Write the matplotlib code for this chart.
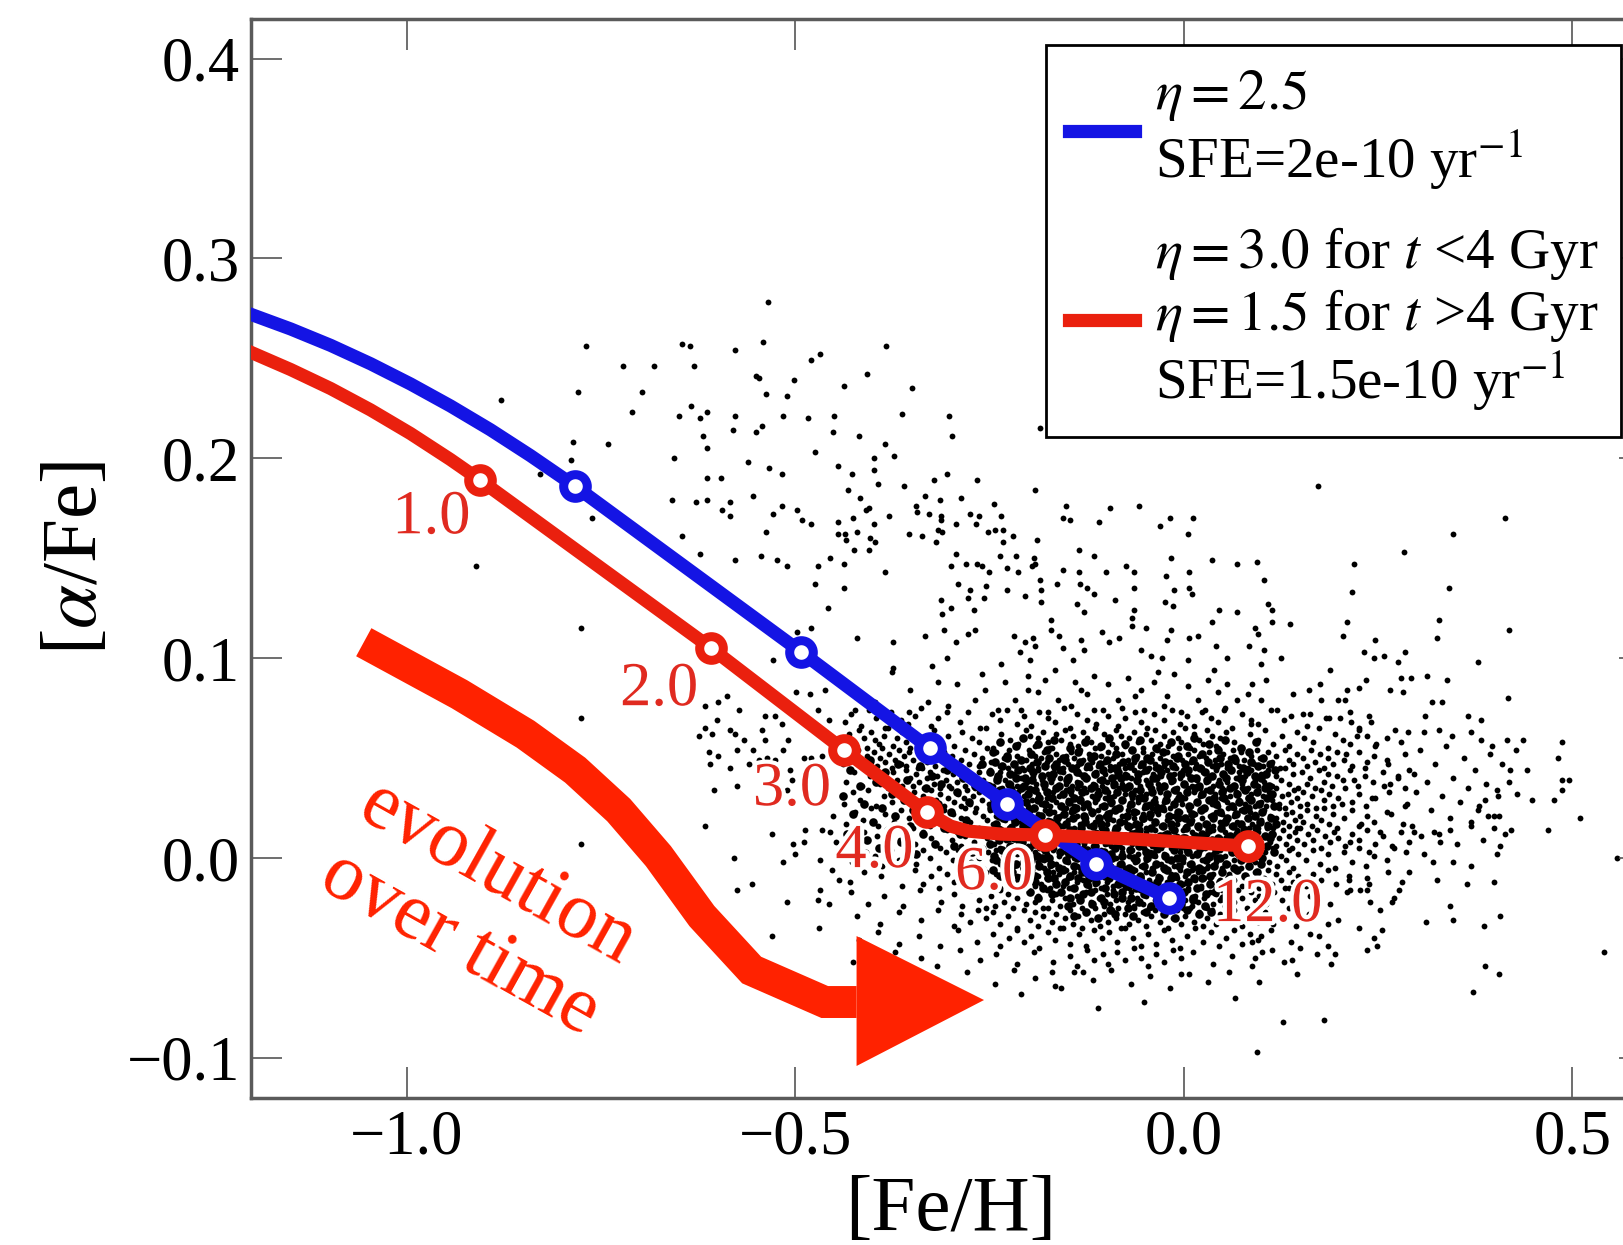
import numpy as np
import matplotlib.pyplot as plt
from matplotlib.lines import Line2D
import matplotlib.patheffects as pe

plt.rcParams['font.family'] = ['Liberation Serif', 'DejaVu Serif']
plt.rcParams['mathtext.fontset'] = 'stix'

# chemical evolution tracks, [Fe/H] vs [alpha/Fe]
blue_feh = [-1.200, -1.149, -1.0976, -1.0462, -0.9949, -0.9435, -0.8921, -0.8408, -0.783, -0.492, -0.327, -0.227, -0.113, -0.019]
blue_alpha = [0.272, 0.2647, 0.2565, 0.2473, 0.2372, 0.2262, 0.2143, 0.2014, 0.186, 0.103, 0.055, 0.027, -0.003, -0.020]
blue_mark_feh = [-0.783, -0.492, -0.327, -0.227, -0.113, -0.019]
blue_mark_alpha = [0.186, 0.103, 0.055, 0.027, -0.003, -0.020]

red_feh = [-1.200, -1.149, -1.0976, -1.0462, -0.9949, -0.9435, -0.905, -0.608, -0.437, -0.331, -0.300, -0.277, -0.235, -0.179, -0.063, 0.082]
red_alpha = [0.253, 0.2444, 0.2349, 0.2242, 0.2124, 0.1994, 0.189, 0.105, 0.054, 0.023, 0.016, 0.0135, 0.012, 0.0115, 0.0095, 0.006]
red_mark_feh = [-0.905, -0.608, -0.437, -0.331, -0.179, 0.082]
red_mark_alpha = [0.189, 0.105, 0.054, 0.023, 0.0115, 0.006]

# age labels (Gyr) along the red track
age_text = ['1.0', '2.0', '3.0', '4.0', '6.0', '12.0']
age_feh = [-0.968, -0.675, -0.504, -0.398, -0.244, 0.108]
age_alpha = [0.170, 0.084, 0.034, 0.003, -0.008, -0.024]

# "evolution over time" arrow
arrow_feh = [-1.055, -0.932, -0.847, -0.783, -0.727, -0.676, -0.620, -0.556, -0.462, -0.421]
arrow_alpha = [0.108, 0.082, 0.062, 0.044, 0.024, 0.001, -0.029, -0.056, -0.072, -0.072]
head_feh = [-0.421, -0.421, -0.257]
head_alpha = [-0.039, -0.104, -0.071]

legend_labels = [r'$\eta=2.5$' + '\nSFE=2e-10 yr$^{-1}$',
                 r'$\eta=3.0$ for $t$ <4 Gyr' + '\n' + r'$\eta=1.5$ for $t$ >4 Gyr' + '\nSFE=1.5e-10 yr$^{-1}$']

# stars, ([Fe/H], [alpha/Fe]) in milli-dex
halo_upper = [
    (-535,278),(-769,256),(-646,257),(-635,256),(-578,254),(-542,258),(-468,252),(-479,249),(-721,246),(-681,246),
    (-630,246),(-780,233),(-697,233),(-551,241),(-547,240),(-502,239),(-538,232),(-510,231),(-878,229),(-710,223),
    (-634,226),(-614,223),(-649,221),(-623,220),(-577,221),(-515,221),(-484,220),(-450,221),(-543,216),(-551,213),
    (-580,214),(-451,213),(-619,211),(-613,205),(-786,208),(-741,207),(-789,199),(-656,200),(-474,203),(-561,198),
    (-534,195),(-517,192),(-445,196),(-828,192),(-613,190),(-595,190),(-761,170),(-659,179),(-627,178),(-613,179),
    (-584,178),(-594,174),(-584,171),(-554,181),(-517,176),(-529,172),(-497,174),(-491,169),(-480,167),(-445,168),
    (-538,163),(-445,162),(-646,161),(-622,152),(-578,149),(-544,151),(-523,149),(-511,146),(-470,146),(-455,150),
    (-911,146),(-474,137),(-458,125),(-775,115),(-497,113),(-479,115),(-528,99),
    (-383,256),(-408,242),(-437,236),(-350,235),(-362,222),(-302,221),(-298,211),(-185,215),(-418,211),(-384,207),
    (-373,201),(-399,200),(-399,194),(-427,192),(-393,187),(-360,186),(-322,189),(-304,192),(-266,189),(-191,184),
    (-432,184),(-416,180),(-405,175),(-409,174),(-425,170),(-379,171),(-398,167),(-344,176),(-343,173),(-328,172),
    (-312,171),(-313,169),(-333,181),(-314,179),(-287,180),(-244,177),(-235,171),(-275,172),(-263,171),(-267,167),
    (-252,163),(-243,164),(-233,164),(-220,161),(-232,158),(-151,176),(-156,170),(-146,169),(-95,175),(-58,176),
    (-109,168),(-30,166),(-18,170),(12,170),(5,162),(-436,162),(-420,163),(-404,160),(-397,158),(-434,159),
    (-424,154),(-405,154),(-353,162),(-337,161),(-316,164),(-311,163),(-319,158),(-293,167),(-189,159),(-437,147),
    (-385,143),(-293,152),(-280,147),(-300,146),(-266,147),(-260,146),(-251,143),(-236,151),(-216,151),(-227,145),
    (-213,143),(-193,150),(-195,146),(-191,147),(-135,154),(-116,151),(-155,144),(-135,143),(-100,143),(-74,146),
    (-64,143),(-16,150),(7,143),(36,149),(69,147),(-437,135),(-290,137),(-255,136),(-275,134),(-278,130),
    (-257,130),(-312,129),(-299,125),(-311,122),(-270,124),(-228,134),(-204,131),(-184,134),(-185,139),(-163,137),
    (-184,128),(-134,137),(-124,135),(-116,132),(-138,127),(-129,123),(-89,129),(-64,135),(-64,124),(-23,141),
    (-12,134),(7,135),(10,132),(-24,128),(-14,126),(45,124),(36,118),(69,123),(-420,110),(-374,108),
    (-333,111),(-308,114),(-293,108),(-278,112),(-269,114),(-219,111),(-204,108),(-194,110),(-191,106),(-211,103),
    (-198,99),(-235,97),(-171,119),(-171,114),(-160,111),(-156,105),(-132,109),(-129,104),(-142,99),(-105,113),
    (-96,108),(-83,110),(-67,116),(-66,120),(-49,115),(-55,104),(-42,101),(-28,100),(-16,114),(-21,109),
    (7,110),(18,111),(42,106),(56,100),(5,99),(-305,100),(-324,96),(-374,95),
    (173,186),(413,170),(346,162),(283,153),(219,147),(94,148),(103,139),(216,133),(341,135),(108,127),
    (113,124),(114,118),(137,117),(91,115),(95,112),(84,106),(103,104),(210,118),(205,111),(246,109),
    (328,119),(326,110),(418,114),(232,103),(245,100),(257,101),(284,103),(275,98),(379,98),(125,100),(99,97),
]

halo_left = [
    (-776,70),(-776,7),(-616,76),(-599,78),(-588,81),(-572,74),(-539,71),(-526,71),(-499,83),(-481,82),
    (-462,84),(-470,74),(-457,69),(-517,67),(-543,64),(-601,69),(-624,61),(-616,65),(-607,62),(-584,64),
    (-578,62),(-566,59),(-554,54),(-539,59),(-509,59),(-515,54),(-536,50),(-547,49),(-560,47),(-575,54),
    (-611,53),(-599,51),(-609,47),(-584,45),(-526,49),(-507,44),(-504,39),(-489,50),(-479,50),(-466,51),
    (-511,34),(-605,34),(-575,36),(-616,16),(-530,12),(-503,7),(-489,8),(-487,14),(-466,14),(-455,13),
    (-500,2),(-515,-2),(-468,-1),(-579,0),(-444,-11),(-575,-16),(-556,-13),(-511,-22),(-468,-16),(-470,-21),
    (-457,-23),(-469,-35),(-530,-39),(-451,21),(-447,8),(-453,-6),
]

halo_right = [
    (88,87),(82,82),(106,89),(140,82),(161,84),(175,87),(176,79),(198,79),(208,79),(210,84),
    (225,85),(234,89),(188,94),(279,90),(292,90),(313,91),(338,89),(265,84),(282,83),(319,78),
    (332,78),(417,80),(366,71),(383,69),(310,71),(238,71),(215,68),(225,65),(201,70),(187,70),
    (153,72),(163,72),(129,69),(120,74),(99,79),(86,67),(272,64),(309,63),(328,64),(345,61),
    (369,63),(383,59),(397,56),(416,59),(437,59),(427,54),(442,44),(420,44),(486,58),(482,50),
    (486,39),(495,39),(486,34),(476,29),(448,29),(429,32),(403,34),(388,29),(379,24),(392,21),
    (405,21),(399,15),(421,14),(469,14),(510,20),(369,16),(343,14),(322,13),(305,11),(290,8),
    (296,13),(330,8),(347,-2),(369,-4),(403,2),(407,6),(399,-12),(364,-13),(326,-11),(320,-2),
    (290,-7),(277,-16),(268,-22),(253,-26),(236,-10),(212,-11),(227,-16),(236,-16),(210,-17),(198,-31),
    (225,-35),(255,-36),(245,-40),(249,-44),(236,-46),(195,-48),(189,-53),(150,-45),(174,-39),(129,-52),
    (101,-47),(91,-50),(88,-42),(99,-39),(146,-58),(97,-62),(127,-82),(180,-81),(94,-97),(311,-32),
    (347,-31),(343,-24),(386,-34),(407,-29),(388,-54),(405,-58),(372,-67),(540,-47),(557,0),
    (204,27),(209,52),(214,8),(219,39),(223,61),(228,17),(233,45),(238,3),(242,30),(247,57),
    (252,13),(257,36),(261,49),(266,22),(271,5),(275,41),(280,58),(285,26),(290,44),(294,16),
    (299,33),(304,54),(309,2),(313,38),(318,24),(323,47),(328,12),(332,31),(337,56),(342,20),
    (347,40),(351,7),(356,28),(361,50),(366,35),(370,18),(375,44),(380,26),(385,9),(389,37),
    (394,52),(399,21),(404,31),(409,47),(413,12),(418,38),
]

core_stars = [
    # 73 .. 94
    (-376,93),(-352,84),(-316,88),(-292,87),(-269,79),(-256,84),(-230,88),(-217,79),(-200,91),(-187,83),
    (-179,89),(-162,79),(-140,88),(-125,82),(-115,91),(-98,87),(-85,79),(-72,90),(-55,84),(-38,88),
    (-21,81),(-12,92),(5,86),(18,79),(31,89),(44,83),(56,87),(69,79),(-303,76),(-329,78),
    (-397,78),(-423,74),(-239,74),(-209,74),(-175,73),(-145,76),(-115,74),(-80,75),(-51,74),(-25,76),
    (-3,73),(27,74),(52,74),(-277,73),(-354,73),(-200,84),(-132,84),(-63,81),(-33,93),(39,94),
    (-166,94),(-260,92),
    # 65 .. 75
    (-436,68),(-428,72),(-415,66),(-405,74),(-396,70),(-385,65),(-377,73),(-364,69),(-355,67),(-346,71),
    (-338,75),(-325,66),(-316,70),(-304,73),(-288,68),(-262,65),(-247,72),(-236,69),(-228,74),(-214,67),
    (-205,71),(-197,66),(-186,73),(-175,70),(-166,68),(-154,75),(-146,65),(-137,72),(-124,69),(-113,67),
    (-104,74),(-97,71),(-85,66),(-76,70),(-63,73),(-55,68),(-47,65),(-38,72),(-26,69),(-15,74),
    (-5,67),(4,71),(13,66),(24,73),(35,70),(44,68),(53,75),(62,65),(75,72),(86,69),
    (95,67),(112,74),(138,71),(158,66),(183,70),(214,73),(241,68),
    # 55 .. 65
    (-437,58),(-431,62),(-424,56),(-418,64),(-412,60),(-407,55),(-402,63),(-397,59),(-392,57),(-386,61),
    (-380,65),(-374,56),(-369,60),(-363,63),(-357,58),(-352,55),(-345,62),(-334,59),(-322,64),(-313,57),
    (-303,61),(-296,56),(-285,63),(-273,60),(-264,58),(-254,65),(-246,55),(-235,62),(-224,59),(-213,57),
    (-203,64),(-198,61),(-192,56),(-187,60),(-181,63),(-175,58),(-170,55),(-164,62),(-158,59),(-153,64),
    (-147,57),(-142,61),(-136,56),(-130,63),(-125,60),(-119,58),(-114,65),(-108,55),(-103,62),(-98,59),
    (-93,57),(-87,64),(-81,61),(-76,56),(-70,60),(-64,63),(-59,58),(-53,55),(-48,62),(-42,59),
    (-37,64),(-31,57),(-25,61),(-20,56),(-14,63),(-8,60),(-3,58),(2,65),(8,55),(13,62),
    (19,59),(25,57),(30,64),(36,61),(41,56),(47,60),(54,63),(64,58),(75,55),(85,62),
    (96,59),(104,64),(115,57),(126,61),(135,56),(146,63),(155,60),(166,58),(174,65),(186,55),
    (195,62),(205,59),(214,57),(226,64),(236,61),(246,56),(262,60),(288,63),
    # 45 .. 55
    (-438,47),(-432,52),(-426,49),(-419,54),(-413,46),(-408,51),(-403,48),(-399,53),(-395,46),(-391,50),
    (-388,55),(-384,48),(-379,52),(-376,45),(-372,49),(-367,54),(-364,47),(-360,51),(-357,46),(-353,53),
    (-348,49),(-342,45),(-337,52),(-331,48),(-326,54),(-320,46),(-315,50),(-309,53),(-304,47),(-298,51),
    (-293,45),(-287,49),(-281,54),(-276,47),(-270,52),(-264,46),(-259,50),(-253,55),(-248,48),(-242,53),
    (-237,46),(-231,50),(-225,54),(-220,47),(-214,51),(-208,45),(-203,49),(-199,54),(-195,47),(-191,51),
    (-188,45),(-184,50),(-180,53),(-176,48),(-172,55),(-168,46),(-164,52),(-160,49),(-156,45),(-152,51),
    (-149,47),(-145,53),(-141,50),(-138,46),(-134,54),(-130,49),(-126,45),(-122,52),(-118,48),(-114,55),
    (-110,46),(-106,51),(-102,48),(-98,53),(-95,46),(-91,50),(-87,55),(-83,47),(-79,52),(-76,45),
    (-72,49),(-68,54),(-64,48),(-60,51),(-56,46),(-52,53),(-49,49),(-45,45),(-41,52),(-37,47),
    (-34,54),(-30,50),(-26,46),(-22,53),(-18,48),(-14,51),(-10,45),(-6,55),(-2,49),(1,46),
    (5,52),(9,48),(13,54),(16,47),(20,51),(24,45),(28,50),(32,53),(36,46),(40,49),
    (44,55),(48,47),(51,52),(55,45),(59,50),(63,54),(67,48),(71,46),(74,53),(78,49),
    (82,45),(86,51),(90,47),(94,54),(98,50),(102,46),(108,53),(113,48),(119,51),(124,45),
    (130,54),(135,49),(141,47),(146,52),(153,50),(158,46),(164,54),(169,48),(175,52),(181,45),
    (186,50),(192,47),(197,53),(206,49),(216,46),(225,53),(236,48),(245,51),(263,47),(284,52),
    # 35 .. 45
    (-435,38),(-424,43),(-414,36),(-404,41),(-397,44),(-391,37),(-386,41),(-380,35),(-374,43),(-369,39),
    (-363,36),(-357,44),(-352,40),(-349,36),(-345,42),(-341,38),(-337,45),(-334,35),(-330,40),(-326,43),
    (-322,37),(-318,41),(-314,35),(-310,44),(-306,39),(-302,36),(-297,42),(-292,38),(-286,45),(-281,36),
    (-275,41),(-269,35),(-264,43),(-258,39),(-253,37),(-249,44),(-245,36),(-241,40),(-237,43),(-234,35),
    (-230,39),(-226,45),(-222,37),(-218,42),(-214,36),(-210,40),(-206,44),(-202,38),(-198,35),(-194,41),
    (-190,37),(-187,44),(-183,39),(-179,36),(-175,42),(-171,38),(-167,45),(-163,35),(-159,40),(-155,43),
    (-151,37),(-148,41),(-144,36),(-140,44),(-137,38),(-133,42),(-129,35),(-125,40),(-121,45),(-117,37),
    (-113,43),(-109,39),(-105,36),(-101,42),(-99,38),(-95,44),(-91,36),(-87,41),(-84,45),(-80,37),
    (-76,42),(-72,35),(-68,40),(-64,44),(-60,38),(-56,36),(-52,43),(-48,39),(-44,35),(-40,42),
    (-37,45),(-33,37),(-29,41),(-25,36),(-21,44),(-17,38),(-13,42),(-9,35),(-5,40),(-1,44),
    (2,37),(6,42),(10,36),(14,45),(17,39),(21,35),(25,43),(29,38),(33,41),(37,36),
    (41,44),(45,39),(49,35),(52,42),(56,38),(60,45),(63,36),(67,40),(71,43),(75,37),
    (79,41),(83,35),(87,44),(91,39),(95,36),(99,42),(103,38),(108,44),(114,36),(119,41),
    (125,39),(130,45),(136,37),(141,42),(147,35),(152,43),(158,37),(163,40),(169,35),(174,44),
    (180,38),(186,42),(191,36),(197,41),(205,39),(214,44),(224,36),(233,41),(244,38),(256,43),
    (265,37),(276,40),(285,35),(296,42),
    # 25 .. 35
    (-437,27),(-426,33),(-416,29),(-406,34),(-396,26),(-386,31),(-375,28),(-366,35),(-356,30),(-347,33),
    (-342,27),(-336,31),(-331,25),(-325,34),(-319,29),(-314,32),(-308,26),(-303,30),(-299,35),(-295,28),
    (-291,32),(-287,26),(-283,30),(-279,34),(-275,27),(-271,31),(-267,25),(-263,33),(-259,29),(-255,35),
    (-251,27),(-248,31),(-244,26),(-240,34),(-237,29),(-233,32),(-229,25),(-225,30),(-221,35),(-217,27),
    (-213,33),(-209,28),(-205,31),(-201,26),(-199,34),(-195,29),(-191,25),(-188,32),(-184,27),(-180,35),
    (-176,30),(-172,26),(-168,33),(-164,28),(-160,31),(-156,25),(-152,34),(-149,29),(-145,32),(-141,26),
    (-137,35),(-133,30),(-130,27),(-126,33),(-122,25),(-118,31),(-114,28),(-110,34),(-106,26),(-102,30),
    (-98,33),(-94,27),(-90,31),(-87,25),(-83,35),(-79,29),(-75,32),(-71,26),(-67,30),(-63,34),
    (-59,28),(-55,31),(-51,25),(-49,32),(-45,27),(-41,35),(-37,30),(-34,26),(-30,33),(-26,28),
    (-22,31),(-18,25),(-14,34),(-10,29),(-6,32),(-2,27),(1,30),(5,35),(9,26),(13,33),
    (17,28),(21,31),(25,25),(28,34),(32,29),(36,27),(40,32),(44,26),(48,30),(52,34),
    (56,28),(60,31),(64,25),(67,33),(71,29),(75,35),(79,27),(83,30),(87,32),(91,26),
    (95,34),(99,28),(102,31),(106,26),(110,33),(114,29),(118,35),(122,27),(126,31),(130,25),
    (134,32),(138,28),(142,34),(146,30),(149,26),(154,33),(159,27),(165,31),(170,25),(176,34),
    (181,29),(187,32),(192,26),(198,30),(207,35),(216,28),(226,32),(235,26),(246,30),(264,33),
    (287,27),
    # 15 .. 25
    (-434,17),(-423,23),(-413,19),(-403,25),(-394,16),(-384,22),(-373,18),(-364,24),(-354,20),(-348,15),
    (-342,22),(-337,18),(-331,25),(-326,16),(-320,21),(-314,19),(-309,24),(-303,17),(-297,22),(-292,16),
    (-286,20),(-281,25),(-275,18),(-269,23),(-264,15),(-258,21),(-253,19),(-249,24),(-245,17),(-241,21),
    (-238,15),(-234,23),(-230,19),(-226,25),(-222,16),(-218,20),(-214,24),(-210,18),(-206,22),(-202,15),
    (-198,20),(-194,25),(-190,17),(-187,22),(-183,16),(-179,24),(-175,19),(-171,15),(-167,23),(-163,18),
    (-159,21),(-155,16),(-151,25),(-149,19),(-145,23),(-141,15),(-138,21),(-134,17),(-130,25),(-126,20),
    (-122,16),(-118,22),(-114,18),(-110,24),(-106,15),(-102,21),(-99,17),(-95,23),(-91,19),(-88,25),
    (-84,15),(-80,21),(-76,18),(-72,24),(-68,16),(-64,20),(-60,23),(-56,17),(-52,22),(-48,15),
    (-44,20),(-41,25),(-37,18),(-33,22),(-29,16),(-25,24),(-21,19),(-17,15),(-13,21),(-9,17),
    (-5,23),(-1,20),(3,16),(7,24),(11,19),(15,22),(19,15),(23,20),(27,25),(31,17),
    (34,21),(38,16),(42,23),(46,18),(49,22),(53,19),(57,25),(61,16),(65,21),(69,18),
    (73,24),(77,15),(81,20),(85,23),(88,17),(92,22),(96,15),(99,19),(103,24),(107,17),
    (111,21),(115,15),(119,20),(123,25),(127,18),(131,22),(135,16),(139,23),(143,19),(146,15),
    (149,21),(154,18),(159,24),(165,16),(170,21),(176,19),(181,25),(187,17),(192,22),(197,15),
    (206,20),(216,24),(225,16),(236,21),(245,18),(262,23),(282,17),
    # 5 .. 15
    (-431,8),(-412,13),(-395,11),(-386,6),(-375,14),(-365,9),(-356,12),(-346,7),(-335,13),(-325,10),
    (-314,5),(-305,14),(-298,9),(-292,13),(-287,6),(-281,11),(-275,15),(-270,8),(-264,12),(-258,5),
    (-253,10),(-248,14),(-244,7),(-240,11),(-237,5),(-233,13),(-229,9),(-225,15),(-221,6),(-217,12),
    (-213,8),(-209,14),(-205,10),(-201,6),(-198,12),(-194,8),(-190,15),(-186,5),(-183,11),(-179,7),
    (-175,13),(-171,9),(-167,5),(-163,14),(-159,10),(-155,6),(-151,12),(-148,8),(-144,14),(-140,5),
    (-137,11),(-133,15),(-129,7),(-125,12),(-121,9),(-117,6),(-113,13),(-109,10),(-105,15),(-101,7),
    (-98,11),(-94,6),(-90,14),(-87,9),(-83,12),(-79,5),(-75,10),(-71,15),(-67,7),(-63,13),
    (-59,8),(-55,11),(-51,5),(-49,13),(-45,9),(-41,6),(-37,14),(-33,10),(-29,5),(-25,12),
    (-21,8),(-17,15),(-13,6),(-9,11),(-5,7),(-1,14),(2,10),(6,5),(10,13),(14,8),
    (18,15),(22,11),(26,6),(30,12),(34,9),(38,14),(42,5),(46,10),(49,7),(53,13),
    (57,8),(61,11),(65,5),(68,14),(72,9),(76,12),(80,6),(84,15),(88,10),(92,7),
    (96,13),(99,5),(103,11),(107,15),(111,8),(115,12),(119,6),(123,10),(127,14),(131,7),
    (135,11),(139,5),(143,13),(146,9),(149,15),(155,7),(160,12),(166,9),(171,14),(177,5),
    (182,11),(188,8),(193,13),(198,10),(207,6),(217,12),(226,9),(236,14),(246,7),(256,11),
    (268,6),(279,13),
    # -5 .. 5
    (-427,-2),(-409,3),(-397,1),(-388,-4),(-377,4),(-366,-1),(-357,2),(-345,-3),(-335,4),(-326,0),
    (-315,-5),(-306,3),(-297,-1),(-291,4),(-286,-4),(-280,2),(-274,-2),(-269,5),(-263,0),(-258,-5),
    (-252,3),(-247,-1),(-242,4),(-236,-3),(-231,1),(-225,5),(-219,-4),(-214,2),(-208,-2),(-203,4),
    (-199,0),(-195,-5),(-191,3),(-188,-2),(-184,5),(-180,-1),(-176,2),(-172,-4),(-168,4),(-164,-3),
    (-160,1),(-156,-5),(-152,3),(-149,-2),(-145,4),(-141,0),(-138,-4),(-134,2),(-130,5),(-126,-1),
    (-122,3),(-118,-5),(-114,1),(-110,-3),(-106,4),(-102,-1),(-98,2),(-94,-4),(-90,5),(-87,0),
    (-83,-3),(-79,3),(-75,-5),(-71,1),(-67,4),(-63,-2),(-59,2),(-55,-4),(-51,5),(-48,-1),
    (-44,3),(-40,-5),(-37,1),(-33,4),(-29,-3),(-25,2),(-21,-1),(-17,5),(-13,-4),(-9,0),
    (-5,3),(-1,-2),(3,4),(7,-3),(11,1),(15,-5),(19,3),(23,-1),(27,5),(31,-4),
    (34,0),(38,2),(42,-2),(46,4),(49,-5),(53,1),(57,-3),(61,4),(65,-1),(69,2),
    (73,-5),(77,3),(81,0),(84,-4),(88,5),(92,-2),(96,1),(99,-3),(104,3),(109,-2),
    (115,5),(120,-4),(125,1),(131,-1),(136,4),(141,-5),(147,2),(157,-1),(166,4),(175,-3),
    (185,2),(195,-5),(206,3),(216,-2),(226,5),(235,-4),(245,1),(261,-1),(286,3),
    # -15 .. -5
    (-430,-12),(-411,-7),(-389,-9),(-363,-14),(-346,-6),(-336,-13),(-325,-9),(-315,-15),(-305,-8),(-296,-12),
    (-285,-6),(-275,-14),(-264,-10),(-254,-7),(-248,-13),(-242,-8),(-237,-15),(-231,-10),(-225,-6),(-219,-12),
    (-214,-9),(-208,-14),(-203,-7),(-199,-11),(-195,-6),(-191,-14),(-187,-9),(-184,-13),(-180,-5),(-176,-10),
    (-172,-15),(-168,-7),(-164,-12),(-160,-8),(-156,-14),(-152,-6),(-149,-10),(-145,-15),(-141,-7),(-137,-12),
    (-134,-5),(-130,-11),(-126,-8),(-122,-14),(-118,-6),(-114,-13),(-110,-9),(-106,-15),(-102,-7),(-99,-12),
    (-95,-8),(-91,-14),(-87,-5),(-83,-10),(-79,-13),(-75,-7),(-71,-15),(-67,-9),(-63,-6),(-59,-12),
    (-55,-10),(-51,-14),(-49,-7),(-45,-11),(-41,-5),(-37,-13),(-33,-9),(-29,-15),(-25,-6),(-21,-12),
    (-17,-8),(-13,-14),(-9,-10),(-5,-6),(-1,-13),(2,-9),(6,-15),(10,-6),(14,-11),(18,-7),
    (22,-14),(26,-10),(30,-5),(34,-12),(38,-8),(42,-15),(46,-11),(49,-6),(53,-13),(58,-8),
    (64,-11),(69,-6),(75,-14),(80,-9),(86,-12),(91,-7),(97,-15),(103,-10),(108,-6),(114,-13),
    (119,-8),(125,-11),(130,-15),(136,-7),(141,-12),(147,-9),(157,-14),(166,-8),(176,-11),(186,-6),
    (196,-13),(212,-9),(238,-13),(263,-7),(281,-12),
    # -25 .. -15
    (-428,-17),(-406,-23),(-386,-19),(-361,-24),(-339,-16),(-312,-22),(-295,-18),(-285,-24),(-274,-16),(-264,-21),
    (-254,-25),(-248,-19),(-243,-24),(-237,-16),(-231,-22),(-226,-18),(-220,-25),(-214,-20),(-209,-15),(-203,-23),
    (-198,-17),(-192,-22),(-187,-19),(-181,-25),(-176,-16),(-170,-21),(-164,-18),(-159,-24),(-153,-20),(-148,-15),
    (-143,-23),(-137,-19),(-131,-25),(-126,-17),(-120,-22),(-114,-16),(-109,-20),(-103,-24),(-99,-18),(-95,-23),
    (-91,-16),(-87,-21),(-84,-25),(-80,-19),(-76,-15),(-72,-22),(-68,-17),(-64,-24),(-60,-20),(-56,-16),
    (-52,-23),(-49,-19),(-45,-25),(-41,-17),(-37,-21),(-33,-15),(-29,-23),(-25,-18),(-21,-24),(-17,-20),
    (-13,-16),(-9,-22),(-5,-18),(-1,-25),(2,-21),(6,-16),(10,-24),(14,-19),(18,-22),(22,-15),
    (26,-20),(30,-25),(34,-17),(38,-23),(42,-18),(46,-21),(49,-16),(53,-24),(59,-18),(64,-22),
    (70,-16),(75,-20),(81,-25),(86,-17),(92,-21),(97,-19),(106,-23),(116,-17),(126,-21),(136,-15),
    (146,-24),(163,-19),(188,-23),(214,-16),(239,-22),(271,-20),
    # -35 .. -25
    (-421,-29),(-391,-33),(-366,-27),(-338,-31),(-316,-26),(-296,-34),(-286,-28),(-275,-32),(-265,-26),(-255,-30),
    (-246,-27),(-236,-33),(-226,-29),(-215,-35),(-205,-26),(-198,-31),(-192,-27),(-187,-34),(-181,-29),(-175,-25),
    (-170,-32),(-164,-28),(-159,-35),(-153,-30),(-147,-26),(-142,-33),(-136,-29),(-131,-35),(-125,-27),(-119,-31),
    (-114,-25),(-108,-34),(-103,-28),(-98,-32),(-92,-26),(-87,-30),(-81,-35),(-76,-28),(-70,-33),(-64,-25),
    (-59,-31),(-53,-27),(-48,-34),(-42,-29),(-37,-26),(-31,-32),(-26,-28),(-20,-35),(-14,-30),(-9,-26),
    (-3,-33),(2,-29),(8,-25),(13,-32),(19,-27),(25,-34),(30,-30),(36,-26),(41,-33),(47,-28),
    (55,-31),(65,-26),(75,-34),(85,-29),(95,-32),(105,-27),(115,-33),(125,-30),(135,-25),(145,-34),
    (161,-28),(185,-33),
    # -45 .. -35
    (-418,-41),(-393,-37),(-367,-43),(-341,-39),(-314,-44),(-291,-36),(-266,-42),(-246,-38),(-236,-44),(-225,-40),
    (-214,-36),(-205,-42),(-196,-39),(-186,-45),(-175,-37),(-166,-41),(-155,-35),(-146,-43),(-135,-38),(-126,-44),
    (-115,-36),(-105,-40),(-96,-37),(-86,-42),(-76,-35),(-65,-40),(-55,-44),(-46,-38),(-36,-43),(-26,-36),
    (-15,-41),(-5,-45),(4,-39),(14,-35),(25,-42),(35,-37),(45,-44),(54,-40),(64,-36),(75,-43),
    (85,-38),(95,-41),(112,-36),(138,-42),(163,-38),(186,-44),
    # -55 .. -45
    (-425,-52),(-372,-47),(-338,-50),(-317,-54),(-288,-46),(-262,-51),(-241,-48),(-214,-53),(-193,-47),(-168,-52),
    (-147,-49),(-137,-54),(-125,-46),(-116,-51),(-104,-48),(-97,-53),(-86,-47),(-75,-51),(-64,-45),(-55,-50),
    (-46,-54),(-36,-48),(-25,-52),(-14,-46),(-4,-50),(12,-47),(37,-53),(62,-49),(88,-54),(113,-46),
    (139,-51),(171,-48),
    # below -55
    (-381,-58),(-332,-62),(-279,-57),(-243,-63),(-218,-56),(-192,-60),(-166,-64),(-141,-57),(-117,-61),(-94,-56),
    (-68,-63),(-43,-59),(-18,-65),(7,-58),(31,-62),(58,-57),(-170,-57),(-130,-57),(-51,-72),(-3,-58),
    (66,-70),(-158,-65),(-110,-75),(-210,-68),
]

# the densest part of the clump, between the first set of points
core_dense = [
    (-249,43),(-243,48),(-239,41),(-234,46),(-228,50),(-224,42),(-219,47),(-213,44),(-209,49),(-204,40),(-198,45),
    (-194,43),(-189,48),(-183,41),(-179,46),(-174,50),(-168,42),(-164,47),(-159,44),(-153,49),(-149,40),(-144,45),
    (-138,43),(-134,48),(-129,41),(-123,46),(-119,50),(-114,42),(-108,47),(-104,44),(-99,49),(-93,40),(-89,45),
    (-84,43),(-78,48),(-74,41),(-69,46),(-63,50),(-59,42),(-54,47),(-48,44),(-44,49),(-39,40),(-33,45),
    (-29,43),(-24,48),(-18,41),(-14,46),(-9,50),(-3,42),(1,47),(6,44),(12,49),(16,40),(21,45),
    (27,43),(31,48),(36,41),(42,46),(46,50),(51,42),(57,47),(61,44),(66,49),(72,40),(76,45),
    (81,43),(87,48),(91,41),(96,46),(102,50),(106,42),(111,47),(117,44),
    (-251,36),(-246,32),(-240,39),(-236,34),(-231,30),(-225,37),(-221,33),(-216,40),(-210,35),
    (-206,36),(-201,32),(-195,39),(-191,34),(-186,30),(-180,37),(-176,33),(-171,40),(-165,35),
    (-161,36),(-156,32),(-150,39),(-146,34),(-141,30),(-135,37),(-131,33),(-126,40),(-120,35),
    (-116,36),(-111,32),(-105,39),(-101,34),(-96,30),(-90,37),(-86,33),(-81,40),(-75,35),
    (-71,36),(-66,32),(-60,39),(-56,34),(-51,30),(-45,37),(-41,33),(-36,40),(-30,35),
    (-26,36),(-21,32),(-15,39),(-11,34),(-6,30),(0,37),(4,33),(9,40),(15,35),
    (19,36),(24,32),(30,39),(34,34),(39,30),(45,37),(49,33),(54,40),(60,35),
    (64,36),(69,32),(75,39),(79,34),(84,30),(90,37),(94,33),(99,40),(105,35),(109,36),(114,32),
    (-248,25),(-244,29),(-238,21),(-233,27),(-229,23),(-223,30),(-218,20),(-214,26),(-208,22),(-203,28),(-199,24),
    (-193,25),(-188,29),(-184,21),(-178,27),(-173,23),(-169,30),(-163,20),(-158,26),(-154,22),(-148,28),(-143,24),
    (-139,25),(-133,29),(-128,21),(-124,27),(-118,23),(-113,30),(-109,20),(-103,26),(-98,22),(-94,28),(-88,24),
    (-83,25),(-79,29),(-73,21),(-68,27),(-64,23),(-58,30),(-53,20),(-49,26),(-43,22),(-38,28),(-34,24),
    (-28,25),(-23,29),(-19,21),(-13,27),(-8,23),(-4,30),(2,20),(7,26),(11,22),(17,28),(22,24),
    (26,25),(32,29),(37,21),(41,27),(47,23),(52,30),(56,20),(62,26),(67,22),(71,28),(77,24),
    (82,25),(86,29),(92,21),(97,27),(101,23),(107,30),(112,20),(116,26),
    (-247,12),(-241,17),(-237,14),(-232,20),(-226,10),(-222,15),(-217,18),(-211,11),(-207,16),
    (-202,12),(-196,17),(-192,14),(-187,20),(-181,10),(-177,15),(-172,18),(-166,11),(-162,16),
    (-157,12),(-151,17),(-147,14),(-142,20),(-136,10),(-132,15),(-127,18),(-121,11),(-117,16),
    (-112,12),(-106,17),(-102,14),(-97,20),(-91,10),(-87,15),(-82,18),(-76,11),(-72,16),
    (-67,12),(-61,17),(-57,14),(-52,20),(-46,10),(-42,15),(-37,18),(-31,11),(-27,16),
    (-22,12),(-16,17),(-12,14),(-7,20),(-1,10),(3,15),(8,18),(14,11),(18,16),
    (23,12),(29,17),(33,14),(38,20),(44,10),(48,15),(53,18),(59,11),(63,16),
    (68,12),(74,17),(78,14),(83,20),(89,10),(93,15),(98,18),(104,11),(108,16),(113,12),(119,17),
    (-249,7),(-244,1),(-238,9),(-234,4),(-229,0),(-223,6),(-219,10),(-214,3),(-208,8),(-204,2),(-199,5),
    (-193,7),(-189,1),(-184,9),(-178,4),(-174,0),(-169,6),(-163,10),(-159,3),(-154,8),(-148,2),(-144,5),
    (-139,7),(-133,1),(-129,9),(-124,4),(-118,0),(-114,6),(-109,10),(-103,3),(-99,8),(-94,2),(-88,5),
    (-84,7),(-79,1),(-73,9),(-69,4),(-64,0),(-58,6),(-54,10),(-49,3),(-43,8),(-39,2),(-34,5),
    (-28,7),(-24,1),(-19,9),(-13,4),(-9,0),(-4,6),(2,10),(6,3),(11,8),(17,2),(21,5),
    (26,7),(32,1),(36,9),(41,4),(47,0),(51,6),(56,10),(62,3),(66,8),(71,2),(77,5),
    (81,7),(86,1),(92,9),(96,4),(101,0),(107,6),(111,10),(116,3),
    (-246,-6),(-242,-1),(-236,-9),(-231,-4),(-227,0),(-221,-7),(-216,-3),(-212,-10),(-206,-5),
    (-201,-6),(-197,-1),(-191,-9),(-186,-4),(-182,0),(-176,-7),(-171,-3),(-167,-10),(-161,-5),
    (-156,-6),(-152,-1),(-146,-9),(-141,-4),(-137,0),(-131,-7),(-126,-3),(-122,-10),(-116,-5),
    (-111,-6),(-107,-1),(-101,-9),(-96,-4),(-92,0),(-86,-7),(-81,-3),(-77,-10),(-71,-5),
    (-66,-6),(-62,-1),(-56,-9),(-51,-4),(-47,0),(-41,-7),(-36,-3),(-32,-10),(-26,-5),
    (-21,-6),(-17,-1),(-11,-9),(-6,-4),(-2,0),(4,-7),(9,-3),(13,-10),(19,-5),
    (24,-6),(28,-1),(34,-9),(39,-4),(43,0),(49,-7),(54,-3),(58,-10),(64,-5),
    (69,-6),(73,-1),(79,-9),(84,-4),(88,0),(94,-7),(99,-3),
    (-198,-17),(-192,-12),(-187,-20),(-181,-15),(-175,-10),(-170,-18),(-164,-13),
    (-158,-17),(-153,-12),(-147,-20),(-141,-15),(-136,-10),(-130,-18),(-124,-13),
    (-119,-17),(-113,-12),(-107,-20),(-102,-15),(-96,-10),(-90,-18),(-85,-13),
    (-79,-17),(-73,-12),(-68,-20),(-62,-15),(-56,-10),(-51,-18),(-45,-13),
    (-39,-17),(-34,-12),(-28,-20),(-22,-15),(-17,-10),(-11,-18),(-5,-13),
    (0,-17),(6,-12),(12,-20),(17,-15),(23,-10),(29,-18),(34,-13),(40,-17),(46,-12),(51,-20),(57,-15),
    (-149,-24),(-141,-29),(-134,-21),(-126,-27),(-118,-23),(-111,-30),(-103,-22),(-95,-26),(-88,-28),(-80,-20),
    (-72,-25),(-65,-29),(-57,-22),(-49,-27),(-42,-24),(-34,-21),(-26,-28),(-19,-25),(-11,-30),(-3,-23),
    (4,-26),(12,-21),(20,-28),(27,-24),(35,-27),
    (-246,53),(-236,58),(-227,51),(-216,56),(-207,60),(-196,52),(-187,57),(-176,54),(-167,59),(-156,50),
    (-147,55),(-136,53),(-127,58),(-116,51),(-107,56),(-96,60),(-87,52),(-76,57),(-67,54),(-56,59),
    (-47,50),(-36,55),(-27,53),(-16,58),(-7,51),(4,56),(13,60),(24,52),(33,57),(44,54),
    (53,59),(64,50),(73,55),(84,53),(93,58),
    (-438,31),(-433,12),(-429,44),(-425,22),(-420,3),(-417,36),(-412,27),(-408,9),(-404,49),(-400,18),
    (-396,38),(-392,5),(-388,25),(-384,43),(-380,14),(-376,32),(-372,21),(-368,47),(-364,8),(-360,29),
    (-356,39),(-352,16),(-348,24),(-344,2),(-340,46),(-336,12),(-332,35),(-328,20),(-324,41),(-320,7),
    (-316,27),(-312,37),(-308,15),(-304,44),(-300,23),(-296,6),(-292,33),(-288,12),(-284,40),(-280,19),
    (-276,28),(-272,3),(-268,36),(-264,14),(-260,47),
]

stars = np.array(halo_upper + halo_left + halo_right + core_stars) / 1000.0
stars_dense = np.array(core_dense) / 1000.0

blue = '#1414e4'
red = '#ea200e'
label_red = '#e02a20'
arrow_red = '#ff2200'

fig = plt.figure(figsize=(16.24, 12.45), dpi=100)
ax = fig.add_axes([0.1546, 0.1181, 0.8615, 0.8670])

ax.plot(stars[:, 0], stars[:, 1], 'o', color='black', ms=4.2, mew=0, zorder=1)
ax.plot(stars_dense[:, 0], stars_dense[:, 1], 'o', color='black', ms=6.2, mew=0, zorder=1)

ax.plot(blue_feh, blue_alpha, '-', color=blue, lw=9.5, solid_joinstyle='round', zorder=3)
ax.plot(red_feh, red_alpha, '-', color=red, lw=9.5, solid_joinstyle='round', zorder=3)
ax.plot(blue_mark_feh, blue_mark_alpha, 'o', ms=17, mfc='white', mec=blue, mew=6.5, zorder=4)
ax.plot(red_mark_feh, red_mark_alpha, 'o', ms=17, mfc='white', mec=red, mew=6.5, zorder=4)

for s, x, y in zip(age_text, age_feh, age_alpha):
    ax.text(x, y, s, color=label_red, fontsize=45, ha='center', va='center', zorder=4,
            path_effects=[pe.withStroke(linewidth=6, foreground='white')])

# big arrow
ax.plot(arrow_feh, arrow_alpha, '-', color=arrow_red, lw=23, solid_joinstyle='miter',
        solid_capstyle='butt', zorder=5)
ax.fill(head_feh, head_alpha, color=arrow_red, lw=0, zorder=5)
ax.text(-0.907, -0.0255, 'evolution\nover time', rotation=-29.2, rotation_mode='anchor',
        ha='center', va='center', fontsize=58, color=arrow_red, linespacing=1.1, zorder=6)

ax.set_xlim(-1.2, 0.6)
ax.set_ylim(-0.12, 0.42)
ax.set_xticks([-1.0, -0.5, 0.0, 0.5])
ax.set_yticks([-0.1, 0.0, 0.1, 0.2, 0.3, 0.4])
ax.tick_params(direction='in', length=22, width=1.2, color='#555555', labelcolor='black',
               top=True, right=True, labelsize=45, pad=8)
for sp in ax.spines.values():
    sp.set_color('#5a5a5a')
    sp.set_linewidth(2.5)

ax.set_xlabel('[Fe/H]', fontsize=57, labelpad=6)
ax.set_ylabel(r'[$\alpha$/Fe]', fontsize=57, labelpad=10)

handles = [Line2D([0], [0], color=blue, lw=9.5), Line2D([0], [0], color=red, lw=9.5)]
leg = ax.legend(handles, legend_labels, loc='upper right', bbox_to_anchor=(1621 / 1624, 1 - 45 / 1245),
                bbox_transform=fig.transFigure, borderaxespad=0, fancybox=False, framealpha=1,
                edgecolor='black', fontsize=41, handlelength=1.15, handletextpad=0.35,
                labelspacing=0.55, borderpad=0.4)
for t in leg.get_texts():
    t.set_linespacing(1.12)
leg.get_frame().set_linewidth(2.0)
leg.set_zorder(10)

fig.savefig('out.png', dpi=100)
